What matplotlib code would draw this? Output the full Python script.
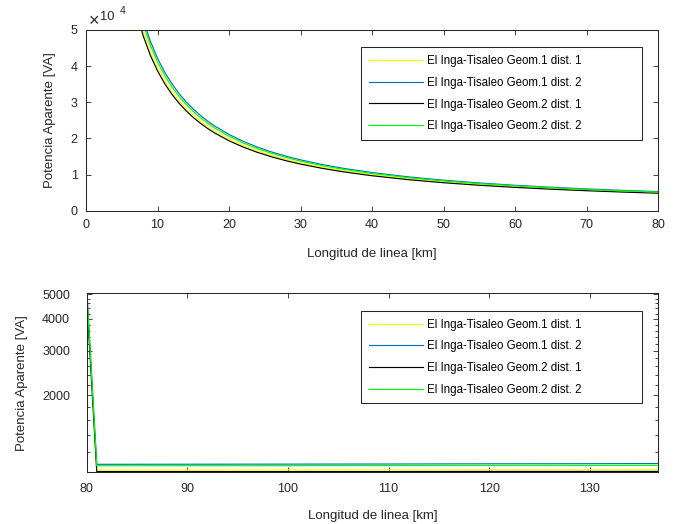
import matplotlib
matplotlib.use('Agg')
import matplotlib.pyplot as plt
from matplotlib.ticker import FixedLocator, FixedFormatter, FuncFormatter, NullFormatter

plt.rcParams['font.family'] = ['Liberation Sans', 'DejaVu Sans']

# apparent power vs line length, short lines (0 - 80 km)
dist_a = [7, 8, 9, 10, 11, 12, 13, 14, 15, 16, 17, 18, 20, 22, 24, 26, 28, 30,
          33, 36, 40, 45, 50, 55, 60, 65, 70, 75, 80]
g1_d1_a = [56710, 49625, 44110, 39700, 36090, 33080, 30540, 28360, 26470, 24810,
           23350, 22060, 19850, 18045, 16540, 15270, 14180, 13230, 12030, 11030,
           9925, 8820, 7940, 7220, 6615, 6110, 5670, 5290, 4960]
g1_d2_a = [60290, 52750, 46890, 42200, 38360, 35170, 32460, 30140, 28130, 26380,
           24820, 23440, 21100, 19180, 17580, 16230, 15070, 14070, 12790, 11720,
           10550, 9380, 8440, 7670, 7030, 6490, 6030, 5630, 5275]
g2_d1_a = [55290, 48375, 43000, 38700, 35180, 32250, 29770, 27640, 25800, 24190,
           22760, 21500, 19350, 17590, 16125, 14885, 13820, 12900, 11730, 10750,
           9675, 8600, 7740, 7035, 6450, 5955, 5530, 5160, 4840]
g2_d2_a = [58860, 51500, 45780, 41200, 37450, 34330, 31690, 29430, 27470, 25750,
           24240, 22890, 20600, 18730, 17170, 15850, 14710, 13730, 12480, 11440,
           10300, 9155, 8240, 7490, 6865, 6340, 5885, 5490, 5150]

# long lines (80 km onwards)
dist_b = [80, 81, 90, 100, 110, 120, 130, 137]
g1_d1_b = [4960, 1018, 1018, 1019, 1019, 1020, 1020, 1021]
g1_d2_b = [5275, 1072, 1073, 1074, 1075, 1077, 1078, 1080]
g2_d1_b = [4840, 1004, 1004, 1004, 1004, 1005, 1005, 1005]
g2_d2_b = [5150, 1058, 1059, 1059, 1060, 1061, 1061, 1062]

labels = ['El Inga-Tisaleo Geom.1 dist. 1', 'El Inga-Tisaleo Geom.1 dist. 2',
          'El Inga-Tisaleo Geom.2 dist. 1', 'El Inga-Tisaleo Geom.2 dist. 2']
colors = ['#ffff00', '#0072bd', '#000000', '#00ff00']

axc = '#262626'
W, H = 677, 524
fig = plt.figure(figsize=(W / 100, H / 100), dpi=100)


def px(x, y):
    # figure pixel position (from top-left) to figure fraction
    return x / W, 1 - y / H


def style(ax):
    ax.tick_params(direction='in', top=True, right=True, length=3.5, width=0.6,
                   colors=axc, labelsize=9, labelcolor=axc)
    ax.tick_params(which='minor', direction='in', right=True, length=2.2, width=0.6,
                   colors=axc)
    for s in ax.spines.values():
        s.set_color(axc)
        s.set_linewidth(0.75)


def add_legend(ax, top_px):
    leg = ax.legend(labels, loc='upper left', mode='expand',
                    bbox_to_anchor=(360.7 / W, 1 - (top_px + 92) / H, 281 / W, 92 / H),
                    bbox_transform=fig.transFigure, borderaxespad=0,
                    fancybox=False, framealpha=1, edgecolor=axc, fontsize=8.3,
                    handlelength=4.7, handletextpad=0.4, labelspacing=0.84,
                    borderpad=0.68)
    leg.get_frame().set_linewidth(0.75)
    return leg


# top panel
ax1 = fig.add_axes([86 / W, 1 - 210.7 / H, 572 / W, 180.7 / H])
ys_a = [g1_d1_a, g1_d2_a, g2_d1_a, g2_d2_a]
for y, c in zip(ys_a, colors):
    ax1.plot(dist_a, y, color=c, lw=0.85)
ax1.set_xlim(0, 80)
ax1.set_ylim(0, 50000)
ax1.set_xticks(range(0, 81, 10))
ax1.set_yticks(range(0, 50001, 10000))
ax1.yaxis.set_major_formatter(FuncFormatter(lambda v, p: '%g' % (v / 1e4)))
style(ax1)
ax1.tick_params(axis='both', pad=6)
ax1.set_xlabel('Longitud de linea [km]', fontsize=9.5, color=axc)
ax1.set_ylabel('Potencia Aparente [VA]', fontsize=9.5, color=axc)
ax1.xaxis.set_label_coords(0.5, -0.205)
ax1.yaxis.set_label_coords(-0.052, 0.5)
add_legend(ax1, 47.3)

# exponent of the y axis
fig.text(*px(89, 26.5), '\u00d7', fontsize=13, color=axc, ha='left', va='baseline')
fig.text(*px(100, 20), '10', fontsize=9.3, color=axc, ha='left', va='baseline')
fig.text(*px(120, 13.5), '4', fontsize=7.5, color=axc, ha='left', va='baseline')

# bottom panel, log scale
ax2 = fig.add_axes([86.7 / W, 1 - 472 / H, 571.6 / W, 178.7 / H])
ys_b = [g1_d1_b, g1_d2_b, g2_d1_b, g2_d2_b]
for y, c in zip(ys_b, colors):
    ax2.plot(dist_b, y, color=c, lw=0.85)
ax2.set_yscale('log')
ax2.set_xlim(80, 136.8)
ax2.set_ylim(1000, 5045)
ax2.set_xticks(range(80, 131, 10))
ax2.yaxis.set_major_locator(FixedLocator([2000, 3000, 4000, 5000]))
ax2.yaxis.set_major_formatter(FixedFormatter(['2000', '3000', '4000', '5000']))
ax2.yaxis.set_minor_locator(FixedLocator([v for v in range(1200, 5000, 200)
                                          if v % 1000 != 0]))
ax2.yaxis.set_minor_formatter(NullFormatter())
style(ax2)
ax2.tick_params(axis='y', which='major', pad=12)
ax2.tick_params(axis='x', pad=8)
ax2.set_xlabel('Longitud de linea [km]', fontsize=9.5, color=axc)
ax2.set_ylabel('Potencia Aparente [VA]', fontsize=9.5, color=axc)
ax2.xaxis.set_label_coords(0.5, -0.21)
ax2.yaxis.set_label_coords(-0.103, 0.5)
add_legend(ax2, 310.7)

fig.savefig('out.png', dpi=100)
